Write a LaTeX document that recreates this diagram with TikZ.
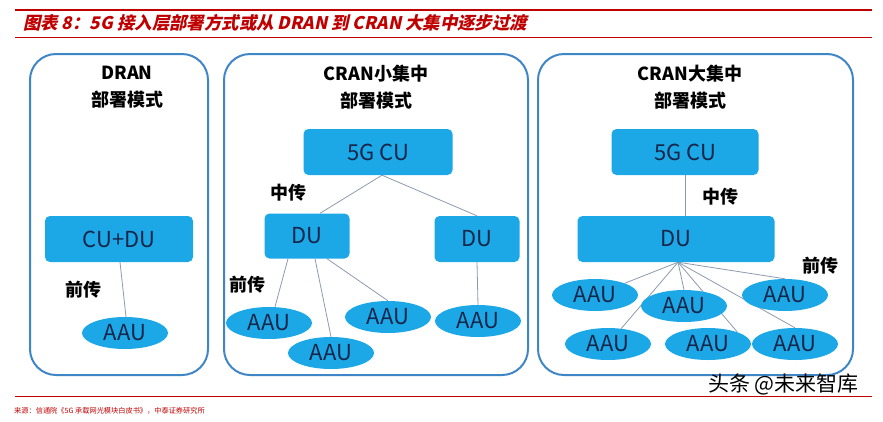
\documentclass[tikz,border=0pt]{standalone}
\usepackage{fontspec}
\usetikzlibrary{shapes.geometric}
\setmainfont{Noto Sans CJK SC}
\newfontfamily\titlefont{Noto Sans CJK SC}[FakeSlant=0.22]
\definecolor{hdred}{HTML}{C00000}
\definecolor{panelblue}{HTML}{3F86C6}
\definecolor{boxblue}{HTML}{1CA8E6}
\definecolor{boxtext}{HTML}{16264A}
\definecolor{linkgray}{HTML}{8C9AAE}
\pgfdeclarelayer{bg}
\pgfsetlayers{bg,main}
\tikzset{
	panel/.style={draw=panelblue, line width=2pt, rounded corners=26pt},
	unit/.style={fill=boxblue, rounded corners=5pt, text=boxtext, inner sep=0pt,
		font=\fontsize{22}{24}\selectfont},
	aau/.style={ellipse, fill=boxblue, text=boxtext, inner sep=0pt,
		minimum width=86pt, minimum height=32pt, font=\fontsize{22}{24}\selectfont},
	link/.style={draw=linkgray, line width=0.8pt},
	head/.style={align=center, font=\bfseries\fontsize{18}{27}\selectfont},
	tag/.style={font=\bfseries\fontsize{18}{20}\selectfont},
}

\begin{document}
\begin{tikzpicture}[x=1pt,y=-1pt]
			\useasboundingbox (0,0) rectangle (883,421);
			% header
			\draw[hdred, line width=2.3pt] (15,10) -- (872,10);
			\draw[hdred, line width=0.9pt] (15,37) -- (872,37);
			\node[anchor=west, text=hdred, inner sep=0pt] (title) at (23,23)
				{\titlefont\bfseries\fontsize{17.4}{19}\selectfont 图表 8：5G 接入层部署方式或从 DRAN 到 CRAN 大集中逐步过渡};
			% DRAN
			\draw[panel] (30,54) rectangle (208,375);
			\node[head] (h1) at (127,87) {DRAN\\部署模式};
			\node[unit, minimum width=148pt, minimum height=46pt] (cudu) at (119,239) {CU+DU};
			\node[aau] (a0) at (125,333) {AAU};
			\node[tag] (f1) at (83,290) {前传};
			\draw[link] ([xshift=1pt]cudu.south) -- ([xshift=1pt]a0.north);
			% CRAN small
			\draw[panel] (224,54) rectangle (528,375);
			\node[head] (h2) at (376,87) {CRAN小集中\\部署模式};
			\node[unit, minimum width=149pt, minimum height=46pt] (cu2) at (378,152) {5G CU};
			\node[unit, minimum width=85pt, minimum height=45pt] (du2a) at (307,236) {DU};
			\node[unit, minimum width=85pt, minimum height=46pt] (du2b) at (477,239) {DU};
			\node[aau] (a1) at (269,323) {AAU};
			\node[aau] (a2) at (331,353) {AAU};
			\node[aau] (a3) at (388,317) {AAU};
			\node[aau] (a4) at (478,321) {AAU};
			\node[tag] (m2) at (288,193) {中传};
			\node[tag] (f2) at (247,285) {前传};
			\begin{pgfonlayer}{bg}
			\draw[link] ([xshift=4pt]cu2.south) -- ([xshift=13pt]du2a.north);
			\draw[link] ([xshift=4pt]cu2.south) -- (du2b.north);
			\draw[link] ([xshift=-19pt]du2a.south) -- ([xshift=6pt]a1.north);
			\draw[link] ([xshift=8pt]du2a.south) -- (a2.north);
			\draw[link] ([xshift=20pt]du2a.south) -- (a3.north);
			\draw[link] (du2b.south) -- (a4.north);
			\end{pgfonlayer}
			% CRAN big
			\draw[panel] (538,54) rectangle (853,375);
			\node[head] (h3) at (690,87) {CRAN大集中\\部署模式};
			\node[unit, minimum width=147pt, minimum height=46pt] (cu3) at (685,152) {5G CU};
			\node[unit, minimum width=197pt, minimum height=46pt] (du3) at (676,239) {DU};
			\node[aau] (b1) at (595,295) {AAU};
			\node[aau] (b2) at (684,306) {AAU};
			\node[aau] (b3) at (785,295) {AAU};
			\node[aau] (b4) at (608,344) {AAU};
			\node[aau] (b5) at (708,344) {AAU};
			\node[aau] (b6) at (795,344) {AAU};
			\node[tag] (m3) at (720,197) {中传};
			\node[tag] (f3) at (820,266) {前传};
			\draw[link] (cu3.south) -- (cu3.south |- du3.north);
			\begin{pgfonlayer}{bg}
			\draw[link] ([xshift=2pt]du3.south) -- (b1);
			\draw[link] ([xshift=2pt]du3.south) -- (b4);
			\draw[link] ([xshift=2pt]du3.south) -- (b2.north);
			\draw[link] ([xshift=2pt]du3.south) -- (b5.22);
			\draw[link] ([xshift=2pt]du3.south) -- (b3.north);
			\draw[link] ([xshift=2pt]du3.south) -- (b6.north);
			\end{pgfonlayer}
			% footer
			\draw[hdred, line width=0.8pt] (15,396) -- (872,396);
			\node[anchor=west, text=hdred, inner sep=0pt] (src) at (14,411)
				{\fontsize{7.2}{9}\selectfont 来源：信通院《5G 承载网光模块白皮书》，中泰证券研究所};
			\node[anchor=west, inner sep=0pt] (mark) at (708,384)
				{\fontsize{21}{23}\selectfont 头条 @未来智库};
		\end{tikzpicture}
\end{document}
